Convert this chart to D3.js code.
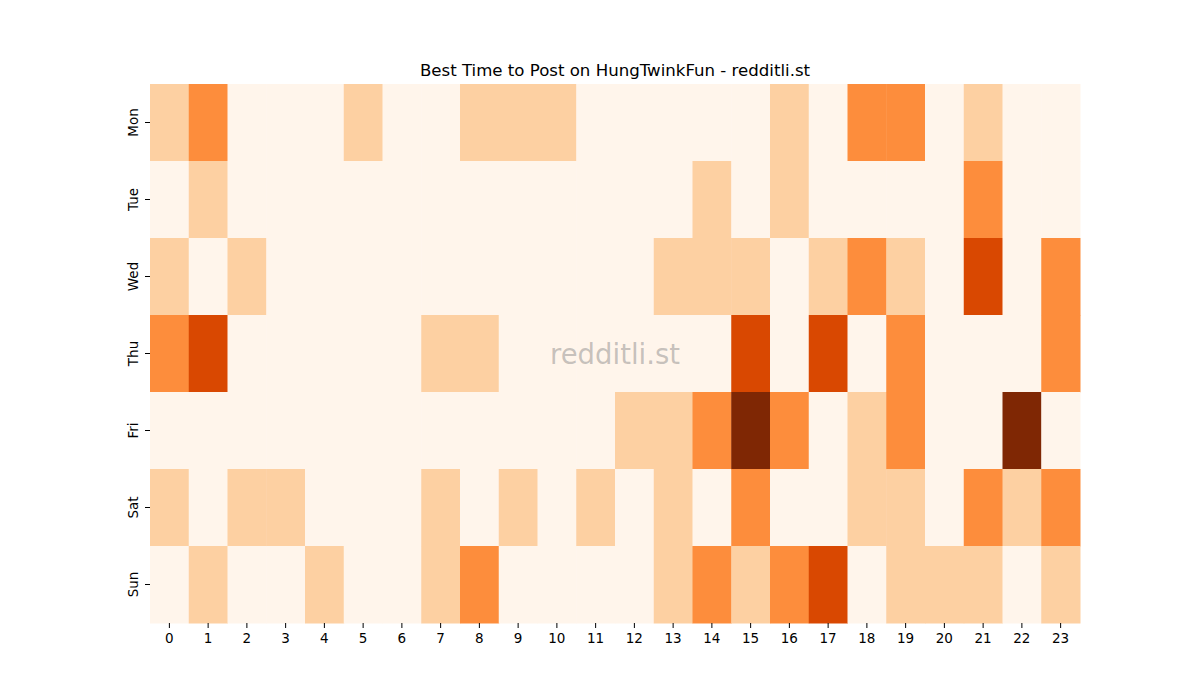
<!DOCTYPE html>
<html>
<head>
<meta charset="utf-8">
<script src="https://cdn.jsdelivr.net/npm/d3@7"></script>
<style>
  body { margin: 0; background: #fff; }
  text { font-family: "DejaVu Sans", sans-serif; }
</style>
</head>
<body>
<script>
'use strict';

// hours along the bottom, days down the side
var hours = d3.range(24).map(String);
var days = ['Mon', 'Tue', 'Wed', 'Thu', 'Fri', 'Sat', 'Sun'];

// activity level per hour (0 = quiet .. 4 = busiest), one array per day
var mon = [1, 2, 0, 0, 0, 1, 0, 0, 1, 1, 1, 0, 0, 0, 0, 0, 1, 0, 2, 2, 0, 1, 0, 0];
var tue = [0, 1, 0, 0, 0, 0, 0, 0, 0, 0, 0, 0, 0, 0, 1, 0, 1, 0, 0, 0, 0, 2, 0, 0];
var wed = [1, 0, 1, 0, 0, 0, 0, 0, 0, 0, 0, 0, 0, 1, 1, 1, 0, 1, 2, 1, 0, 3, 0, 2];
var thu = [2, 3, 0, 0, 0, 0, 0, 1, 1, 0, 0, 0, 0, 0, 0, 3, 0, 3, 0, 2, 0, 0, 0, 2];
var fri = [0, 0, 0, 0, 0, 0, 0, 0, 0, 0, 0, 0, 1, 1, 2, 4, 2, 0, 1, 2, 0, 0, 4, 0];
var sat = [1, 0, 1, 1, 0, 0, 0, 1, 0, 1, 0, 1, 0, 1, 0, 2, 0, 0, 1, 1, 0, 2, 1, 2];
var sun = [0, 1, 0, 0, 1, 0, 0, 1, 2, 0, 0, 0, 0, 1, 2, 1, 2, 3, 0, 1, 1, 1, 0, 1];

var levels = [mon, tue, wed, thu, fri, sat, sun];
var palette = ['#fff5eb', '#fdd0a2', '#fd8d3c', '#d94801', '#7f2704'];

var width = 1200;
var height = 700;
var margin = {top: 84, right: 120, bottom: 77, left: 150};

var svg = d3.select('body').append('svg')
        .attr('width', width)
        .attr('height', height);

var x = d3.scaleBand()
        .domain(hours)
        .range([margin.left, width - margin.right]);

var y = d3.scaleBand()
        .domain(days)
        .range([margin.top, height - margin.bottom]);

var color = d3.scaleOrdinal()
        .domain(d3.range(palette.length))
        .range(palette);

// flatten into cells
var cells = [];
days.forEach(function(day, i) {
    levels[i].forEach(function(v, h) {
        cells.push({day: day, hour: hours[h], value: v});
    });
});

svg.append('g')
        .selectAll('rect')
        .data(cells)
        .join('rect')
        .attr('x', function(d) { return x(d.hour); })
        .attr('y', function(d) { return y(d.day); })
        .attr('width', x.bandwidth() + 0.5)
        .attr('height', y.bandwidth() + 0.5)
        .attr('fill', function(d) { return color(d.value); });

// axes
var xAxis = svg.append('g')
        .attr('transform', 'translate(0,' + (height - margin.bottom) + ')')
        .call(d3.axisBottom(x).tickSize(5).tickPadding(5));

var yAxis = svg.append('g')
        .attr('transform', 'translate(' + margin.left + ',0)')
        .call(d3.axisLeft(y).tickSize(5).tickPadding(5));

[xAxis, yAxis].forEach(function(ax) {
    ax.select('.domain').remove();
    ax.selectAll('line').attr('stroke', '#000').attr('stroke-width', 1);
    ax.selectAll('text')
            .attr('fill', '#000')
            .style('font-family', '"DejaVu Sans", sans-serif')
            .style('font-size', '13.5px');
});

// rotate day labels like the original
yAxis.selectAll('.tick text')
        .attr('x', null)
        .attr('dy', null)
        .attr('text-anchor', 'middle')
        .attr('transform', 'translate(-17.5,0) rotate(-90)')
        .attr('dominant-baseline', 'central');

// title
svg.append('text')
        .attr('x', (margin.left + width - margin.right) / 2)
        .attr('y', margin.top - 8)
        .attr('text-anchor', 'middle')
        .style('font-size', '16.6px')
        .attr('fill', '#000')
        .text('Best Time to Post on HungTwinkFun - redditli.st');

// watermark
svg.append('text')
        .attr('x', (margin.left + width - margin.right) / 2)
        .attr('y', (margin.top + height - margin.bottom) / 2)
        .attr('text-anchor', 'middle')
        .attr('dominant-baseline', 'central')
        .style('font-size', '27.5px')
        .attr('fill', '#808080')
        .attr('fill-opacity', 0.45)
        .text('redditli.st');
</script>
</body>
</html>
